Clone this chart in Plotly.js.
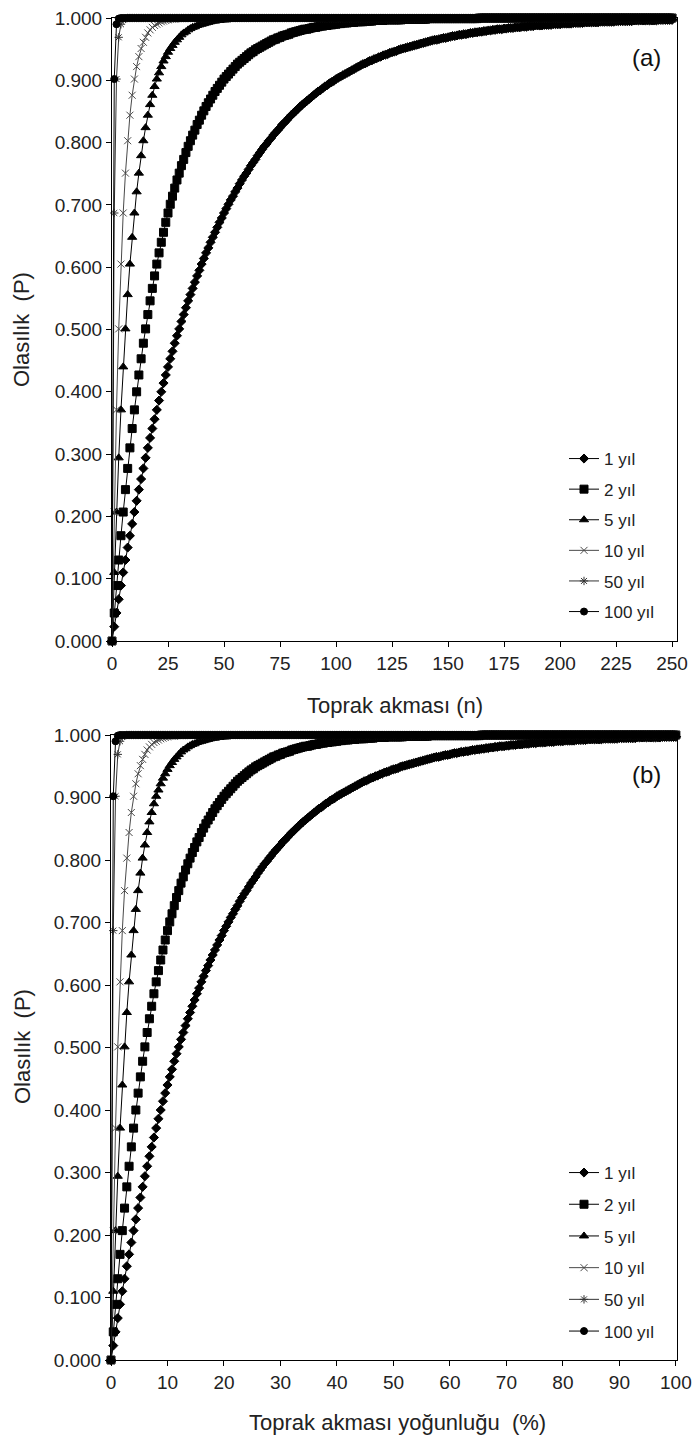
<!DOCTYPE html>
<html>
<head>
<meta charset="utf-8">
<script src="https://cdn.plot.ly/plotly-3.0.1.min.js"></script>
<style>html,body{margin:0;padding:0;background:#fff;} #chart{width:694px;height:1437px;}</style>
</head>
<body>
<div id="chart"></div>
<script>
// Series names (legend labels)
const seriesNames = ["1 yıl", "2 yıl", "5 yıl", "10 yıl", "50 yıl", "100 yıl"];

// Probability values P, one value per step n = 0, 1, 2, ... 250
const yil1 = [
0.000,0.023,0.045,0.067,0.089,0.110,0.130,0.150,0.169,0.188, // 0
0.207,0.225,0.243,0.260,0.277,0.294,0.310,0.326,0.341,0.356, // 10
0.371,0.386,0.400,0.414,0.427,0.440,0.453,0.465,0.478,0.490, // 20
0.501,0.513,0.524,0.535,0.546,0.556,0.566,0.576,0.586,0.595, // 30
0.605,0.614,0.623,0.631,0.640,0.648,0.656,0.664,0.672,0.679, // 40
0.687,0.694,0.701,0.708,0.714,0.721,0.727,0.734,0.740,0.746, // 50
0.751,0.757,0.763,0.768,0.773,0.779,0.784,0.789,0.794,0.798, // 60
0.803,0.807,0.812,0.816,0.820,0.824,0.829,0.832,0.836,0.840, // 70
0.844,0.847,0.851,0.854,0.858,0.861,0.864,0.867,0.870,0.873, // 80
0.876,0.879,0.882,0.884,0.887,0.890,0.892,0.895,0.897,0.899, // 90
0.902,0.904,0.906,0.908,0.910,0.912,0.914,0.916,0.918,0.920, // 100
0.922,0.924,0.926,0.927,0.929,0.931,0.932,0.934,0.935,0.937, // 110
0.938,0.940,0.941,0.942,0.944,0.945,0.946,0.947,0.949,0.950, // 120
0.951,0.952,0.953,0.954,0.955,0.956,0.957,0.958,0.959,0.960, // 130
0.961,0.962,0.963,0.964,0.965,0.965,0.966,0.967,0.968,0.968, // 140
0.969,0.970,0.971,0.971,0.972,0.973,0.973,0.974,0.974,0.975, // 150
0.976,0.976,0.977,0.977,0.978,0.978,0.979,0.979,0.980,0.980, // 160
0.981,0.981,0.982,0.982,0.982,0.983,0.983,0.984,0.984,0.984, // 170
0.985,0.985,0.985,0.986,0.986,0.986,0.987,0.987,0.987,0.988, // 180
0.988,0.988,0.988,0.989,0.989,0.989,0.989,0.990,0.990,0.990, // 190
0.990,0.991,0.991,0.991,0.991,0.991,0.992,0.992,0.992,0.992, // 200
0.992,0.993,0.993,0.993,0.993,0.993,0.993,0.993,0.994,0.994, // 210
0.994,0.994,0.994,0.994,0.994,0.995,0.995,0.995,0.995,0.995, // 220
0.995,0.995,0.995,0.996,0.996,0.996,0.996,0.996,0.996,0.996, // 230
0.996,0.996,0.996,0.996,0.997,0.997,0.997,0.997,0.997,0.997, // 240
0.997];                                                      // 250

const yil2 = [
0.000,0.045,0.089,0.130,0.169,0.207,0.243,0.277,0.310,0.341, // 0
0.371,0.400,0.427,0.453,0.478,0.501,0.524,0.546,0.566,0.586, // 10
0.605,0.623,0.640,0.656,0.672,0.687,0.701,0.714,0.727,0.740, // 20
0.751,0.763,0.773,0.784,0.794,0.803,0.812,0.820,0.829,0.836, // 30
0.844,0.851,0.858,0.864,0.870,0.876,0.882,0.887,0.892,0.897, // 40
0.902,0.906,0.910,0.914,0.918,0.922,0.926,0.929,0.932,0.935, // 50
0.938,0.941,0.944,0.946,0.949,0.951,0.953,0.955,0.957,0.959, // 60
0.961,0.963,0.965,0.966,0.968,0.969,0.971,0.972,0.973,0.974, // 70
0.976,0.977,0.978,0.979,0.980,0.981,0.982,0.982,0.983,0.984, // 80
0.985,0.985,0.986,0.987,0.987,0.988,0.988,0.989,0.989,0.990, // 90
0.990,0.991,0.991,0.992,0.992,0.992,0.993,0.993,0.993,0.994, // 100
0.994,0.994,0.994,0.995,0.995,0.995,0.995,0.996,0.996,0.996, // 110
0.996,0.996,0.997,0.997,0.997,0.997,0.997,0.997,0.997,0.997, // 120
0.998,0.998,0.998,0.998,0.998,0.998,0.998,0.998,0.998,0.998, // 130
0.998,0.999,0.999,0.999,0.999,0.999,0.999,0.999,0.999,0.999, // 140
0.999,0.999,0.999,0.999,0.999,0.999,0.999,0.999,0.999,0.999, // 150
0.999,0.999,0.999,0.999,1,1,1,1,1,1,                         // 160
1,1,1,1,1,1,1,1,1,1, // 170
1,1,1,1,1,1,1,1,1,1, // 180
1,1,1,1,1,1,1,1,1,1, // 190
1,1,1,1,1,1,1,1,1,1, // 200
1,1,1,1,1,1,1,1,1,1, // 210
1,1,1,1,1,1,1,1,1,1, // 220
1,1,1,1,1,1,1,1,1,1, // 230
1,1,1,1,1,1,1,1,1,1, // 240
1];                  // 250

const yil5 = [
0.000,0.110,0.207,0.294,0.371,0.440,0.501,0.556,0.605,0.648, // 0
0.687,0.721,0.751,0.779,0.803,0.824,0.844,0.861,0.876,0.890, // 10
0.902,0.912,0.922,0.931,0.938,0.945,0.951,0.956,0.961,0.965, // 20
0.969,0.973,0.976,0.978,0.981,0.983,0.985,0.986,0.988,0.989, // 30
0.990,0.991,0.992,0.993,0.994,0.995,0.995,0.996,0.996,0.997, // 40
0.997,0.997,0.998,0.998,0.998,0.998,0.998,0.999,0.999,0.999, // 50
0.999,0.999,0.999,0.999,0.999,0.999,1,1,1,1,                 // 60
1,1,1,1,1,1,1,1,1,1, // 70
1,1,1,1,1,1,1,1,1,1, // 80
1,1,1,1,1,1,1,1,1,1, // 90
1,1,1,1,1,1,1,1,1,1, // 100
1,1,1,1,1,1,1,1,1,1, // 110
1,1,1,1,1,1,1,1,1,1, // 120
1,1,1,1,1,1,1,1,1,1, // 130
1,1,1,1,1,1,1,1,1,1, // 140
1,1,1,1,1,1,1,1,1,1, // 150
1,1,1,1,1,1,1,1,1,1, // 160
1,1,1,1,1,1,1,1,1,1, // 170
1,1,1,1,1,1,1,1,1,1, // 180
1,1,1,1,1,1,1,1,1,1, // 190
1,1,1,1,1,1,1,1,1,1, // 200
1,1,1,1,1,1,1,1,1,1, // 210
1,1,1,1,1,1,1,1,1,1, // 220
1,1,1,1,1,1,1,1,1,1, // 230
1,1,1,1,1,1,1,1,1,1, // 240
1];                  // 250

const yil10 = [
0.000,0.207,0.371,0.501,0.605,0.687,0.751,0.803,0.844,0.876, // 0
0.902,0.922,0.938,0.951,0.961,0.969,0.976,0.981,0.985,0.988, // 10
0.990,0.992,0.994,0.995,0.996,0.997,0.998,0.998,0.998,0.999, // 20
0.999,0.999,0.999,1,1,1,1,1,1,1,                             // 30
1,1,1,1,1,1,1,1,1,1, // 40
1,1,1,1,1,1,1,1,1,1, // 50
1,1,1,1,1,1,1,1,1,1, // 60
1,1,1,1,1,1,1,1,1,1, // 70
1,1,1,1,1,1,1,1,1,1, // 80
1,1,1,1,1,1,1,1,1,1, // 90
1,1,1,1,1,1,1,1,1,1, // 100
1,1,1,1,1,1,1,1,1,1, // 110
1,1,1,1,1,1,1,1,1,1, // 120
1,1,1,1,1,1,1,1,1,1, // 130
1,1,1,1,1,1,1,1,1,1, // 140
1,1,1,1,1,1,1,1,1,1, // 150
1,1,1,1,1,1,1,1,1,1, // 160
1,1,1,1,1,1,1,1,1,1, // 170
1,1,1,1,1,1,1,1,1,1, // 180
1,1,1,1,1,1,1,1,1,1, // 190
1,1,1,1,1,1,1,1,1,1, // 200
1,1,1,1,1,1,1,1,1,1, // 210
1,1,1,1,1,1,1,1,1,1, // 220
1,1,1,1,1,1,1,1,1,1, // 230
1,1,1,1,1,1,1,1,1,1, // 240
1];                  // 250

const yil50 = [
0.000,0.687,0.902,0.969,0.990,0.997,0.999,1,1,1, // 0
1,1,1,1,1,1,1,1,1,1, // 10
1,1,1,1,1,1,1,1,1,1, // 20
1,1,1,1,1,1,1,1,1,1, // 30
1,1,1,1,1,1,1,1,1,1, // 40
1,1,1,1,1,1,1,1,1,1, // 50
1,1,1,1,1,1,1,1,1,1, // 60
1,1,1,1,1,1,1,1,1,1, // 70
1,1,1,1,1,1,1,1,1,1, // 80
1,1,1,1,1,1,1,1,1,1, // 90
1,1,1,1,1,1,1,1,1,1, // 100
1,1,1,1,1,1,1,1,1,1, // 110
1,1,1,1,1,1,1,1,1,1, // 120
1,1,1,1,1,1,1,1,1,1, // 130
1,1,1,1,1,1,1,1,1,1, // 140
1,1,1,1,1,1,1,1,1,1, // 150
1,1,1,1,1,1,1,1,1,1, // 160
1,1,1,1,1,1,1,1,1,1, // 170
1,1,1,1,1,1,1,1,1,1, // 180
1,1,1,1,1,1,1,1,1,1, // 190
1,1,1,1,1,1,1,1,1,1, // 200
1,1,1,1,1,1,1,1,1,1, // 210
1,1,1,1,1,1,1,1,1,1, // 220
1,1,1,1,1,1,1,1,1,1, // 230
1,1,1,1,1,1,1,1,1,1, // 240
1];                  // 250

const yil100 = [
0.000,0.902,0.990,0.999,1,1,1,1,1,1, // 0
1,1,1,1,1,1,1,1,1,1, // 10
1,1,1,1,1,1,1,1,1,1, // 20
1,1,1,1,1,1,1,1,1,1, // 30
1,1,1,1,1,1,1,1,1,1, // 40
1,1,1,1,1,1,1,1,1,1, // 50
1,1,1,1,1,1,1,1,1,1, // 60
1,1,1,1,1,1,1,1,1,1, // 70
1,1,1,1,1,1,1,1,1,1, // 80
1,1,1,1,1,1,1,1,1,1, // 90
1,1,1,1,1,1,1,1,1,1, // 100
1,1,1,1,1,1,1,1,1,1, // 110
1,1,1,1,1,1,1,1,1,1, // 120
1,1,1,1,1,1,1,1,1,1, // 130
1,1,1,1,1,1,1,1,1,1, // 140
1,1,1,1,1,1,1,1,1,1, // 150
1,1,1,1,1,1,1,1,1,1, // 160
1,1,1,1,1,1,1,1,1,1, // 170
1,1,1,1,1,1,1,1,1,1, // 180
1,1,1,1,1,1,1,1,1,1, // 190
1,1,1,1,1,1,1,1,1,1, // 200
1,1,1,1,1,1,1,1,1,1, // 210
1,1,1,1,1,1,1,1,1,1, // 220
1,1,1,1,1,1,1,1,1,1, // 230
1,1,1,1,1,1,1,1,1,1, // 240
1];                  // 250

// Axis texts
const yTitle = "Olasılık\u00a0 (P)";
const xTitleA = "Toprak akması (n)";
const xTitleB = "Toprak akması yoğunluğu\u00a0 (%)";
const panelTags = ["(a)", "(b)"];

// x scale of each panel: panel (a) counts n directly, panel (b) shows it as % of 250
const stepA = 1;     // n per point
const stepB = 0.4;   // % per point

const seriesY = [yil1, yil2, yil5, yil10, yil50, yil100];

const W = 694, H = 1437;
const px = v => v / W;
const py = v => 1 - v / H;

const styles = [
  {symbol: 'diamond',       size: 7, color: '#000'},
  {symbol: 'square',        size: 8, color: '#000'},
  {symbol: 'triangle-up',   size: 8, color: '#000'},
  {symbol: 'x-thin-open',   size: 7, color: '#4a4a4a'},
  {symbol: 'asterisk-open', size: 7, color: '#333'},
  {symbol: 'circle',        size: 7, color: '#000'}
];

function makeTraces(tag, xa, ya, step, leg) {
  return seriesY.map((y, i) => ({
    type: 'scatter', mode: 'lines+markers', name: seriesNames[i],
    y: y, x0: 0, dx: step,
    xaxis: xa, yaxis: ya, legend: leg, legendgroup: tag + i,
    cliponaxis: false,
    line: {color: styles[i].color, width: 1},
    marker: {symbol: styles[i].symbol, size: styles[i].size, color: styles[i].color,
             line: {color: styles[i].color, width: 1}}
  }));
}

const data = makeTraces('a', 'x', 'y', stepA, 'legend')
  .concat(makeTraces('b', 'x2', 'y2', stepB, 'legend2'));

const FONT = 'Liberation Sans, Arial, sans-serif';
const axBase = {
  showline: true, linecolor: '#000', linewidth: 1, mirror: true,
  ticks: 'outside', ticklen: 5, tickwidth: 1, tickcolor: '#000',
  showgrid: false, zeroline: false, fixedrange: true,
  tickfont: {family: FONT, size: 19, color: '#222'}
};

const legBase = {
  xanchor: 'left', yanchor: 'top', bgcolor: 'rgba(0,0,0,0)',
  font: {family: FONT, size: 17, color: '#222'},
  traceorder: 'grouped', itemwidth: 30
};

const layout = {
  width: W, height: H,
  margin: {l: 0, r: 0, t: 0, b: 0},
  paper_bgcolor: '#fff', plot_bgcolor: '#fff',
  font: {family: FONT, color: '#222'},
  showlegend: true,
  xaxis:  Object.assign({}, axBase, {domain: [px(112), px(677)], range: [0, 252.2], tick0: 0, dtick: 25, anchor: 'y'}),
  yaxis:  Object.assign({}, axBase, {domain: [py(641), py(18)], range: [0, 1], tick0: 0, dtick: 0.1, tickformat: '.3f', anchor: 'x'}),
  xaxis2: Object.assign({}, axBase, {domain: [px(111), px(677)], range: [0, 100.2], tick0: 0, dtick: 10, anchor: 'y2'}),
  yaxis2: Object.assign({}, axBase, {domain: [py(1360), py(735)], range: [0, 1], tick0: 0, dtick: 0.1, tickformat: '.3f', anchor: 'x2'}),
  legend:  Object.assign({}, legBase, {x: px(564), y: py(441), tracegroupgap: 5.5}),
  legend2: Object.assign({}, legBase, {x: px(564), y: py(1155), tracegroupgap: 6.6}),
  annotations: [
    {text: yTitle, xref: 'paper', yref: 'paper', x: px(22), y: py(330), textangle: -90, showarrow: false,
     xanchor: 'center', yanchor: 'middle', font: {family: FONT, size: 22, color: '#222'}},
    {text: xTitleA, xref: 'paper', yref: 'paper', x: px(395), y: py(705), showarrow: false,
     xanchor: 'center', yanchor: 'middle', font: {family: FONT, size: 22, color: '#222'}},
    {text: panelTags[0], xref: 'paper', yref: 'paper', x: px(646), y: py(57), showarrow: false,
     xanchor: 'center', yanchor: 'middle', font: {family: FONT, size: 24, color: '#111'}},
    {text: yTitle, xref: 'paper', yref: 'paper', x: px(22), y: py(1047), textangle: -90, showarrow: false,
     xanchor: 'center', yanchor: 'middle', font: {family: FONT, size: 22, color: '#222'}},
    {text: xTitleB, xref: 'paper', yref: 'paper', x: px(397), y: py(1422), showarrow: false,
     xanchor: 'center', yanchor: 'middle', font: {family: FONT, size: 22, color: '#222'}},
    {text: panelTags[1], xref: 'paper', yref: 'paper', x: px(646), y: py(774), showarrow: false,
     xanchor: 'center', yanchor: 'middle', font: {family: FONT, size: 24, color: '#111'}}
  ]
};

Plotly.newPlot('chart', data, layout, {displayModeBar: false, staticPlot: true});
</script>
</body>
</html>
